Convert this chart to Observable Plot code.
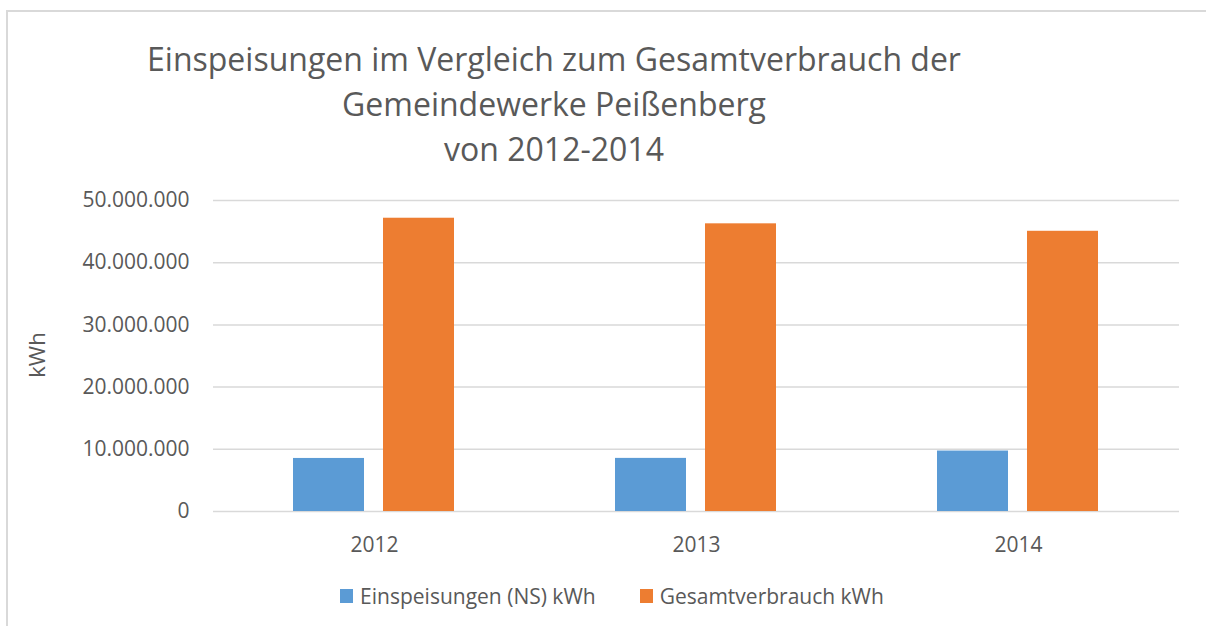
<!DOCTYPE html>
<html>
<head>
<meta charset="utf-8">
<script src="https://cdn.jsdelivr.net/npm/d3@7"></script>
<script src="https://cdn.jsdelivr.net/npm/@observablehq/plot@0.6"></script>
<style>
  html, body { margin: 0; padding: 0; background: #fff; }
  body { width: 1206px; height: 626px; position: relative; overflow: hidden; font-family: "Open Sans", sans-serif; color: #595959; }
  #frame { position: absolute; left: 6px; top: 10px; width: 1220px; height: 700px; border-left: 2px solid #d9d9d9; border-top: 2px solid #d9d9d9; }
  #chart { position: absolute; left: 0; top: 0; }
  #title { position: absolute; left: 0; top: 36px; width: 1108px; text-align: center; font-size: 32px; line-height: 45px; color: #595959; }
  #legend { position: absolute; left: 0; top: 581px; width: 1224px; text-align: center; font-size: 21px; color: #595959; white-space: nowrap; }
  #ylabel { position: absolute; left: 36px; top: 355px; font-size: 22px; color: #595959; transform: translate(-50%, -50%) rotate(-90deg); white-space: nowrap; }
  .item { display: inline-flex; align-items: center; margin: 0 22px; }
  .sw { width: 13px; height: 14px; display: inline-block; margin-right: 7px; }
</style>
</head>
<body>
<div id="frame"></div>
<div id="chart"></div>
<div id="title"></div>
<div id="ylabel"></div>
<div id="legend"></div>
<script>
const titleLines = ["Einspeisungen im Vergleich zum Gesamtverbrauch der", "Gemeindewerke Peißenberg", "von 2012-2014"];
const years = ["2012", "2013", "2014"];
const seriesNames = ["Einspeisungen (NS) kWh", "Gesamtverbrauch kWh"];
const einspeisungen = [8530000, 8540000, 9720000];
const gesamtverbrauch = [47150000, 46250000, 45050000];
const seriesColors = ["#5B9BD5", "#ED7D31"];
const yTicks = [0, 10000000, 20000000, 30000000, 40000000, 50000000];
const yLabel = "kWh";

const data = [];
years.forEach((yr, i) => {
  data.push({year: yr, series: seriesNames[0], value: einspeisungen[i]});
  data.push({year: yr, series: seriesNames[1], value: gesamtverbrauch[i]});
});

const de = d3.formatLocale({decimal: ",", thousands: ".", grouping: [3], currency: ["", " €"]});
const fmt = de.format(",d");

document.getElementById("title").innerHTML = titleLines.map(t => `<div>${t}</div>`).join("");
document.getElementById("ylabel").textContent = yLabel;
document.getElementById("legend").innerHTML = seriesNames.map((s, i) =>
  `<span class="item"><span class="sw" style="background:${seriesColors[i]}"></span>${s}</span>`).join("");

const chart = Plot.plot({
  width: 1206,
  height: 626,
  marginTop: 200,
  marginBottom: 115,
  marginLeft: 212,
  marginRight: 26,
  style: {fontFamily: "Open Sans, sans-serif", fontSize: "21px", color: "#595959", background: "transparent"},
  fx: {domain: years, padding: 0, axis: "bottom", tickSize: 0, tickPadding: 26, label: null},
  x: {domain: seriesNames, paddingInner: 0.21, paddingOuter: 0.88, axis: null},
  y: {domain: [0, 50000000], ticks: yTicks, tickFormat: fmt, tickSize: 0, tickPadding: 24, label: null},
  color: {domain: seriesNames, range: seriesColors},
  marks: [
    Plot.ruleY(yTicks, {stroke: "#d9d9d9", strokeWidth: 1.5}),
    Plot.barY(data, {fx: "year", x: "series", y: "value", fill: "series"})
  ]
});
document.getElementById("chart").appendChild(chart);
</script>
</body>
</html>
